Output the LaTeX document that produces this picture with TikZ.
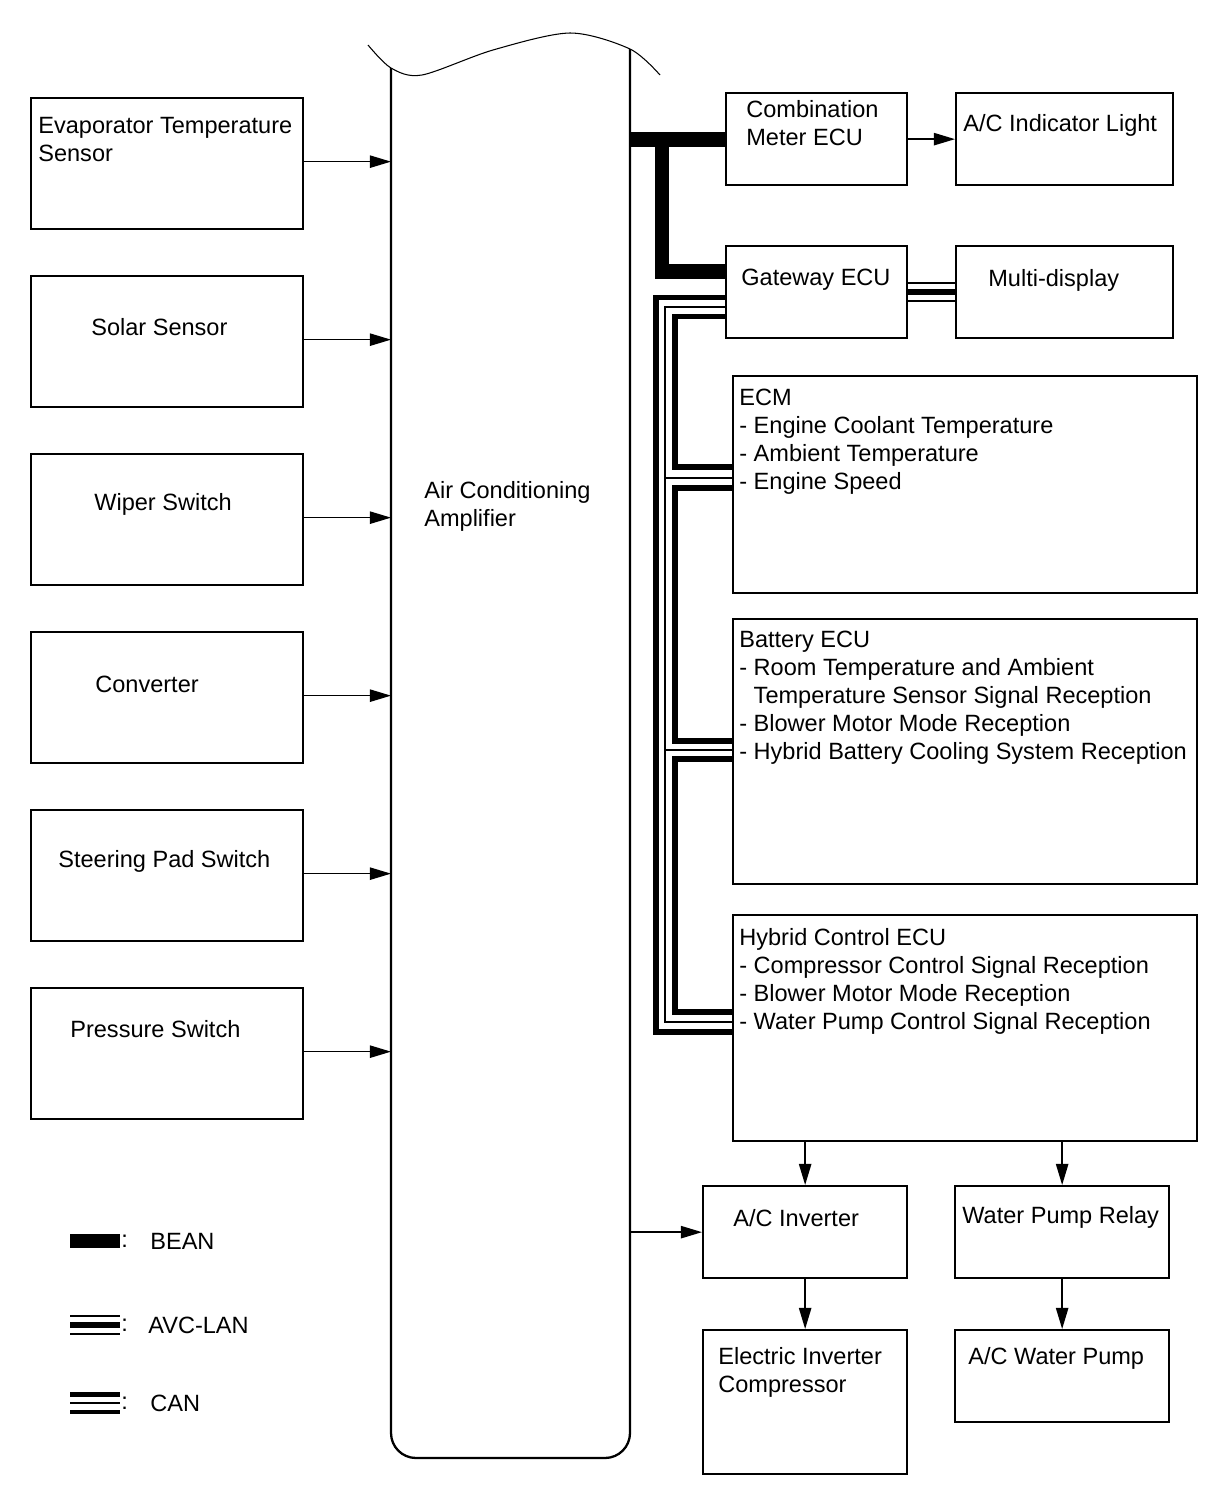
\documentclass[tikz,border=0pt]{standalone}
\usepackage{fontspec}
\setmainfont{Liberation Sans}
\usetikzlibrary{calc,arrows.meta}
\tikzset{
  blk/.style 2 args={draw,line width=1.3pt,anchor=north west,inner sep=0,minimum width=#1*0.02cm,minimum height=#2*0.02cm},
  lbl/.style={anchor=north west,inner sep=0,align=left,font=\fontsize{13.4}{15.9}\selectfont},
  sig/.style={line width=0.85pt,-{Triangle[length=12pt,width=7pt]}},
  bean/.style={line width=8.5pt},
  canthick/.style={line width=3pt},
  canthin/.style={line width=1pt},
  avc/.style={line width=11.3pt,postaction={draw,white,line width=9.1pt},postaction={draw,black,line width=3.4pt}},
  can/.style={line width=13pt,postaction={draw,white,line width=7.4pt},postaction={draw,black,line width=1.1pt}},
}
\begin{document}
\begin{tikzpicture}[x=0.02cm,y=-0.02cm]
  \useasboundingbox(0,0)rectangle(1210,1498);
  % amplifier
  \draw[line width=1.3pt,rounded corners=0.5cm](391,68)--(391,1458)--(630,1458)--(630,49);
  \draw[line width=0.6pt]plot[smooth]coordinates{(368,45)(391,68)(422,75)(493,50)(570,33)(630,49)(660,75)};
  \node[lbl](amp)at(424,481){Air Conditioning\\Amplifier};
  \coordinate(ampL)at(391,0);\coordinate(ampR)at(630,0);
  % sensors on the left
  \foreach \N/\Y/\dx/\dy/\T in{evap/97/8/20/{Evaporator Temperature\\Sensor},solar/275/61/43/{Solar Sensor},
    wiper/453/64/40/{Wiper Switch},conv/631/65/45/{Converter},steer/809/28/41/{Steering Pad Switch},press/987/40/33/{Pressure Switch}}{
    \node[blk={272}{131}](\N)at(30,\Y){};
    \node[lbl](\N-txt)at($(\N.north west)+(\dx,\dy)$){\T};
    \draw[sig]($(\N.east)+(0,-2)$)--($(\N.east-|ampL)+(0,-2)$);
  }
  % ECUs on the right
  \foreach \N/\X/\Y/\W/\H/\dx/\dy/\T in{cm/725/92/181/92/21/8/{Combination\\Meter ECU},aci/955/92/217/92/8/22/{A/C Indicator Light},
    gw/725/245/181/92/16/24/{Gateway ECU},md/955/245/217/92/33/24/{Multi-display},
    ecm/732/375/464/217/7/14/{ECM\\- Engine Coolant Temperature\\- Ambient Temperature\\- Engine Speed},
    bat/732/618/464/265/7/13/{Battery ECU\\- Room Temperature and Ambient\\\phantom{- }Temperature Sensor Signal Reception\\- Blower Motor Mode Reception\\- Hybrid Battery Cooling System Reception},
    hyb/732/914/464/226/7/14/{Hybrid Control ECU\\- Compressor Control Signal Reception\\- Blower Motor Mode Reception\\- Water Pump Control Signal Reception},
    inv/702/1185/204/92/31/24/{A/C Inverter},wpr/954/1185/214/92/8/21/{Water Pump Relay},
    eic/702/1329/204/144/16/18/{Electric Inverter\\Compressor},wp/954/1329/214/92/14/18/{A/C Water Pump}}{
    \node[blk={\W}{\H}](\N)at(\X,\Y){};
    \node[lbl](\N-txt)at($(\N.north west)+(\dx,\dy)$){\T};
  }
  \draw[sig](cm)--(aci);
  \draw[sig](hyb.south-|inv.north)--(inv.north);
  \draw[sig](hyb.south-|wpr.north)--(wpr.north);
  \draw[sig](inv)--(eic);
  \draw[sig](wpr)--(wp);
  \draw[sig](inv.west-|ampR)--(inv.west);
  % BEAN
  \draw[bean](cm.west-|ampR)--(cm.west);
  \draw[bean]($(cm.west)+(-63,0)$)|-($(gw.west)+(0,-21)$);
  % AVC-LAN
  \draw[avc](gw.east)--(md.west);
  % CAN
  \draw[canthick]($(gw.west)+(0,5)$)-|($(hyb.north west)+(-76,118)$)--($(hyb.north west)+(0,118)$);
  \draw[canthin]($(gw.west)+(0,15)$)-|($(hyb.north west)+(-67,108)$)--($(hyb.north west)+(0,108)$);
  \draw[canthin]($(ecm.north west)+(-67,103)$)--($(ecm.north west)+(0,103)$);
  \draw[canthin]($(bat.north west)+(-67,132)$)--($(bat.north west)+(0,132)$);
  \draw[canthick]($(gw.west)+(0,24)$)-|($(ecm.north west)+(-57,92)$)--($(ecm.north west)+(0,92)$);
  \draw[canthick]($(ecm.north west)+(0,113)$)-|($(bat.north west)+(-57,123)$)--($(bat.north west)+(0,123)$);
  \draw[canthick]($(bat.north west)+(0,141)$)-|($(hyb.north west)+(-57,98)$)--($(hyb.north west)+(0,98)$);
  % legend
  \draw[bean](70,1241)--(120,1241);
  \draw[avc](70,1325)--(120,1325);
  \draw[can](70,1403)--(120,1403);
  \foreach \N/\Y/\X/\T in{bean/1241/150/BEAN,avclan/1325/148/AVC-LAN,canbus/1403/150/CAN}{
    \node[lbl,anchor=west](\N-sep)at(121,\Y){:};
    \node[lbl,anchor=west](\N-txt)at(\X,\Y){\T};
  }
\end{tikzpicture}
\end{document}
